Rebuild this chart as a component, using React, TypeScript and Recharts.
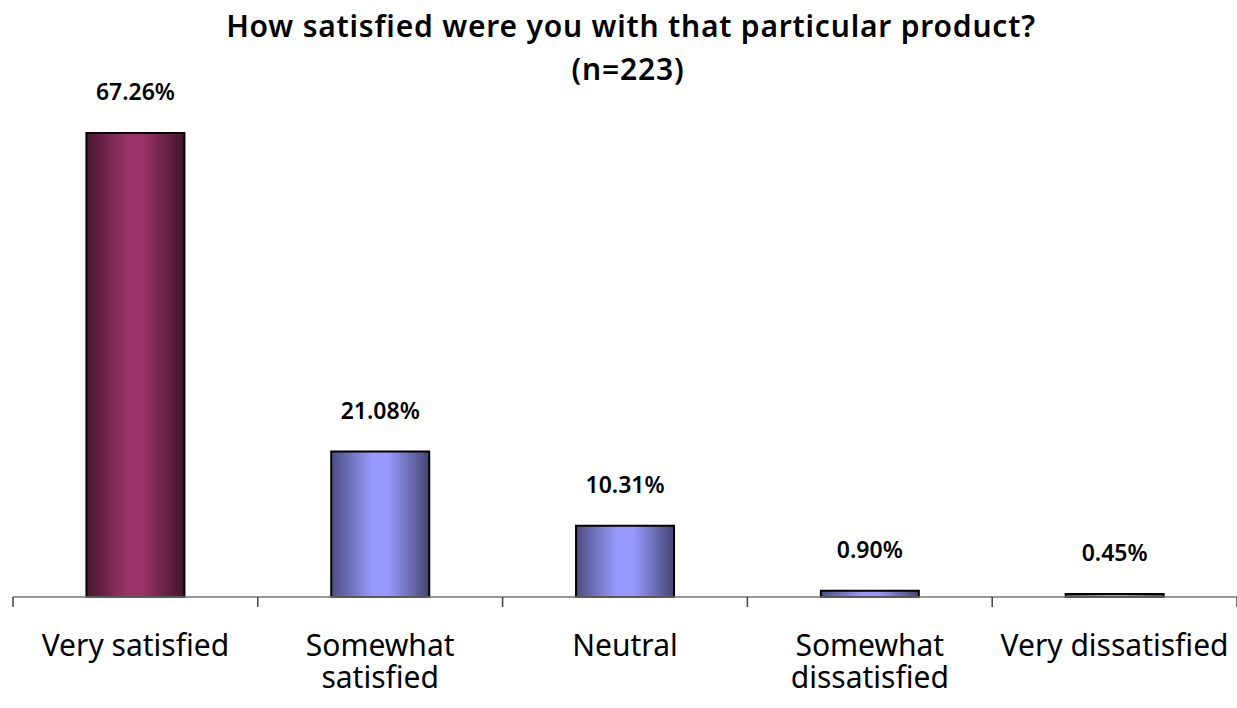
import React from "react";
import { BarChart, Bar, XAxis, YAxis, Cell, LabelList } from "recharts";

// Survey answers and their shares (percent of respondents)
const categories = [
  "Very satisfied",
  "Somewhat\nsatisfied",
  "Neutral",
  "Somewhat\ndissatisfied",
  "Very dissatisfied",
];
const percentages = [67.26, 21.08, 10.31, 0.9, 0.45];
const valueLabels = ["67.26%", "21.08%", "10.31%", "0.90%", "0.45%"];
const titleLines = ["How satisfied were you with that particular product?", "(n=223)"];

const data = categories.map((category, i) => ({
  category,
  value: percentages[i],
  label: valueLabels[i],
}));

const WIDTH = 1237;
const HEIGHT = 708;
const FONT = "'Noto Sans', 'DejaVu Sans', sans-serif";

// Category label centred under the bar, with tick marks on the band boundaries
const CategoryTick = (props: any) => {
  const { x, y, payload, index, visibleTicksCount } = props;
  const half = typeof payload?.offset === "number" && payload.offset > 0 ? payload.offset : 122.4;
  const lines = String(payload.value).split("\n");
  const isLast = index === (visibleTicksCount ?? categories.length) - 1;
  return (
    <g>
      <line x1={x - half} x2={x - half} y1={y} y2={y + 10} stroke="#444" strokeWidth={1.5} />
      {isLast && (
        <line x1={x + half} x2={x + half} y1={y} y2={y + 10} stroke="#444" strokeWidth={1.5} />
      )}
      {lines.map((line, i) => (
        <text
          key={i}
          x={x}
          y={y + 59 + i * 32}
          textAnchor="middle"
          fontFamily={FONT}
          fontSize={30}
          fill="#000"
        >
          {line}
        </text>
      ))}
    </g>
  );
};

export default function App() {
  return (
    <div style={{ position: "absolute", left: 0, top: 0, width: WIDTH, height: HEIGHT, background: "#fff" }}>
      <BarChart
        width={WIDTH}
        height={HEIGHT}
        data={data}
        margin={{ top: 114, right: 0, bottom: 0, left: 13 }}
        barCategoryGap="30%"
      >
        <defs>
          <linearGradient id="gradMaroon" x1="0" y1="0" x2="1" y2="0">
            <stop offset="0%" stopColor="#4a1831" />
            <stop offset="42%" stopColor="#993366" />
            <stop offset="58%" stopColor="#993366" />
            <stop offset="100%" stopColor="#3f1429" />
          </linearGradient>
          <linearGradient id="gradPeriwinkle" x1="0" y1="0" x2="1" y2="0">
            <stop offset="0%" stopColor="#4d4d80" />
            <stop offset="42%" stopColor="#9999ff" />
            <stop offset="58%" stopColor="#9999ff" />
            <stop offset="100%" stopColor="#454573" />
          </linearGradient>
        </defs>
        <XAxis
          dataKey="category"
          interval={0}
          height={111}
          tickSize={0}
          tickMargin={0}
          tickLine={false}
          axisLine={{ stroke: "#777", strokeWidth: 1.5 }}
          tick={<CategoryTick />}
        />
        <YAxis hide width={0} domain={[0, 70]} />
        <Bar dataKey="value" stroke="#000" strokeWidth={2} isAnimationActive={false}>
          {data.map((d, i) => (
            <Cell key={d.category} fill={i === 0 ? "url(#gradMaroon)" : "url(#gradPeriwinkle)"} />
          ))}
          <LabelList
            dataKey="label"
            position="top"
            offset={33}
            fill="#000"
            fontSize={23}
            fontWeight={600}
            fontFamily={FONT}
          />
        </Bar>
      </BarChart>
      <svg
        width={WIDTH}
        height={110}
        style={{ position: "absolute", left: 0, top: 0, pointerEvents: "none" }}
      >
        <text
          textAnchor="middle"
          fontFamily={FONT}
          fontSize={30}
          fontWeight={600}
          letterSpacing={0.8}
          fill="#000"
        >
          <tspan x={631} y={37}>{titleLines[0]}</tspan>
          <tspan x={628} y={80}>{titleLines[1]}</tspan>
        </text>
      </svg>
    </div>
  );
}
